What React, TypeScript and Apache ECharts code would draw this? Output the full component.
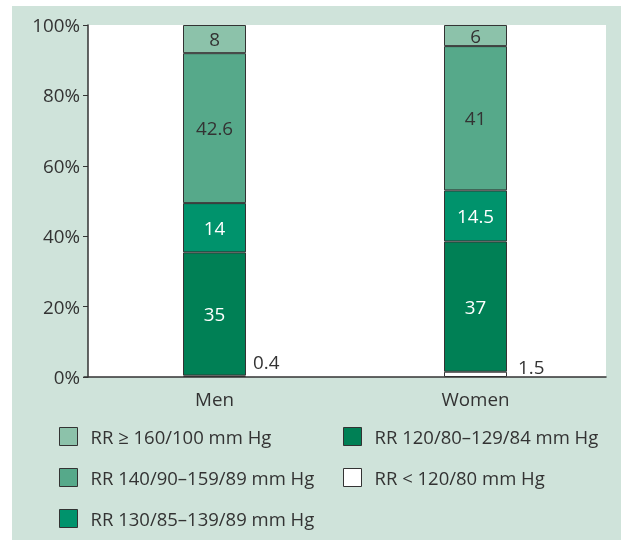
import React, { useEffect, useRef } from "react";
import * as echarts from "echarts";

const categories = ["Men", "Women"];
const seriesNames = [
  "RR < 120/80 mm Hg",
  "RR 120/80–129/84 mm Hg",
  "RR 130/85–139/89 mm Hg",
  "RR 140/90–159/89 mm Hg",
  "RR ≥ 160/100 mm Hg",
];
const below120 = [0.4, 1.5];
const rr120to129 = [35, 37];
const rr130to139 = [14, 14.5];
const rr140to159 = [42.6, 41];
const rr160plus = [8, 6];
const yTicks = [0, 20, 40, 60, 80, 100];

const colors = ["#ffffff", "#008055", "#00936c", "#56a98a", "#8cc2aa"];
const labelColors = ["#333333", "#ffffff", "#ffffff", "#333333", "#333333"];
const FONT = "'Open Sans', 'Noto Sans', sans-serif";
const FS = 18.8;

export default function App() {
  const ref = useRef<HTMLDivElement>(null);
  useEffect(() => {
    if (!ref.current) return;
    const chart = echarts.init(ref.current, null, { renderer: "svg" });
    const values = [below120, rr120to129, rr130to139, rr140to159, rr160plus];
    const smallOffsets = [
      [1, -14],
      [5, -7],
    ];
    const series = values.map((vals, i) => ({
      name: seriesNames[i],
      type: "bar",
      stack: "total",
      barWidth: 63,
      itemStyle: { color: colors[i], borderColor: "#333333", borderWidth: 1 },
      emphasis: { disabled: true },
      data: vals.map((v, j) =>
        i === 0
          ? {
              value: v,
              label: {
                show: true,
                position: "right",
                distance: 6,
                offset: smallOffsets[j],
                color: "#333333",
                fontSize: FS,
                fontFamily: FONT,
              },
            }
          : v
      ),
      label:
        i === 0
          ? { show: true }
          : {
              show: true,
              position: "inside",
              color: labelColors[i],
              fontSize: FS,
              fontFamily: FONT,
            },
    }));
    const legendCommon = {
      orient: "vertical",
      itemWidth: 18,
      itemHeight: 18,
      itemGap: 22,
      icon: "rect",
      selectedMode: false,
      textStyle: {
        fontSize: 18.5,
        lineHeight: 18,
        color: "#333333",
        fontFamily: FONT,
        padding: [0, 0, 0, 8],
      },
      itemStyle: { borderColor: "#333333", borderWidth: 1 },
    };
    chart.setOption({
      animation: false,
      textStyle: { fontFamily: FONT },
      graphic: [
        {
          type: "rect",
          z: -10,
          silent: true,
          shape: { x: 12, y: 6, width: 609, height: 534 },
          style: { fill: "#cfe3da" },
        },
        {
          type: "rect",
          z: -9,
          silent: true,
          shape: { x: 88, y: 25, width: 518, height: 352 },
          style: { fill: "#ffffff" },
        },
      ],
      grid: {
        left: 84,
        top: 25,
        width: 522,
        height: 352,
        show: false,
      },
      legend: [
        {
          ...legendCommon,
          left: 54,
          top: 422,
          data: [seriesNames[4], seriesNames[3], seriesNames[2]],
        },
        {
          ...legendCommon,
          left: 338,
          top: 422,
          data: [seriesNames[1], seriesNames[0]],
        },
      ],
      xAxis: {
        type: "category",
        data: categories,
        axisLine: { lineStyle: { color: "#333333", width: 1.5 } },
        axisTick: { show: false },
        axisLabel: { fontSize: FS, color: "#333333", margin: 12, fontFamily: FONT },
      },
      yAxis: {
        type: "value",
        min: yTicks[0],
        max: yTicks[yTicks.length - 1],
        interval: 20,
        offset: -4,
        splitLine: { show: false },
        axisLine: { show: true, lineStyle: { color: "#333333", width: 1.5 } },
        axisTick: { show: true, length: 5, lineStyle: { color: "#333333" } },
        axisLabel: {
          fontSize: FS,
          color: "#333333",
          margin: 8,
          fontFamily: FONT,
          formatter: "{value}%",
        },
      },
      series,
    });
    return () => chart.dispose();
  }, []);
  return (
    <div
      ref={ref}
      style={{ position: "fixed", left: 0, top: 0, width: 621, height: 542 }}
    />
  );
}
